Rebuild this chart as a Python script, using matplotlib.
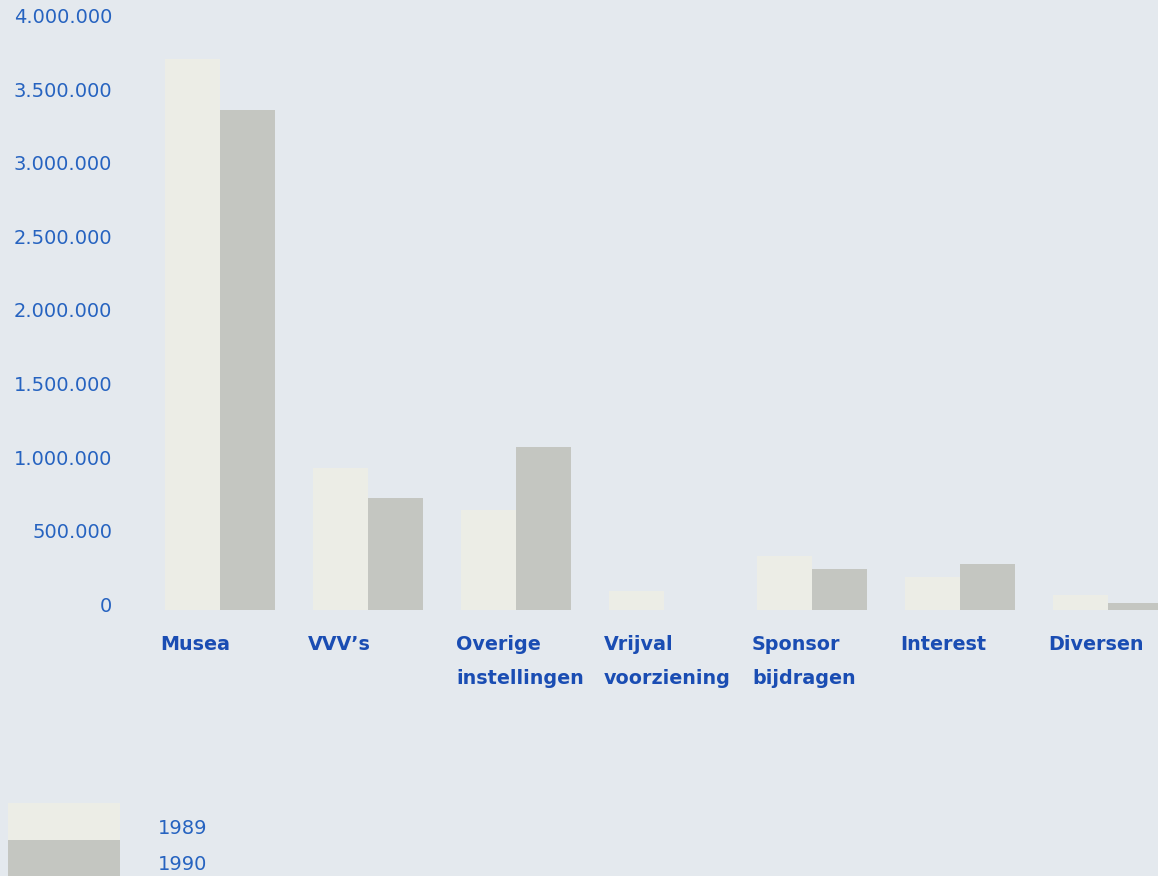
import matplotlib
matplotlib.use("Agg")
import matplotlib.pyplot as plt
from matplotlib.patches import Rectangle
import numpy as np

categories = ["Musea", "VVV\u2019s", "Overige\ninstellingen", "Vrijval\nvoorziening",
              "Sponsor\nbijdragen", "Interest", "Diversen"]
values_1989 = [3740000, 965000, 680000, 130000, 370000, 225000, 100000]
values_1990 = [3400000, 760000, 1110000, 0, 280000, 310000, 50000]
tick_values = [0, 500000, 1000000, 1500000, 2000000, 2500000, 3000000, 3500000, 4000000]
years = ["1989", "1990"]

BG = "#e4e9ee"
C89 = "#ecede6"
C90 = "#c4c6c1"
BLUE = "#2663c0"
DBLUE = "#1a4db3"

W, H = 1158, 876
fig = plt.figure(figsize=(W / 100, H / 100), dpi=100, facecolor=BG)
ax = fig.add_axes([0, 0, 1, 1])
ax.set_facecolor(BG)

# pixel layout: group i starts around x=165+148*i, baseline at y=610 from top
x0_px, step_px = 220, 148
base_px, per_m = 610, 147.2
ax.set_xlim(-x0_px / step_px, (W - x0_px) / step_px)
ax.set_ylim(-(H - base_px) / per_m * 1e6, base_px / per_m * 1e6)
ax.axis("off")

x = np.arange(len(categories))
bw = 55 / step_px
ax.bar(x - bw / 2, values_1989, width=bw, color=C89, linewidth=0)
ax.bar(x + bw / 2, values_1990, width=bw, color=C90, linewidth=0)

font = "DejaVu Sans"
for v in tick_values:
    label = "{:,}".format(v).replace(",", ".")
    ax.text((112 - x0_px) / step_px, v - 12000, label, ha="right", va="baseline",
            color=BLUE, fontsize=14, family=font)

line_base = [650, 684]
for i, cat in enumerate(categories):
    for j, line in enumerate(cat.split("\n")):
        ax.text(i - bw - 5 / step_px, (base_px - line_base[j]) / per_m * 1e6, line,
                ha="left", va="baseline", color=DBLUE, fontsize=13.8, family=font,
                fontweight="bold")

# legend
def px_rect(x1, y1, x2, y2, color):
    fig.patches.append(Rectangle((x1 / W, 1 - y2 / H), (x2 - x1) / W, (y2 - y1) / H,
                                 transform=fig.transFigure, color=color, linewidth=0))

px_rect(8, 803, 120, 840, C89)
px_rect(8, 840, 120, 880, C90)
fig.text(158 / W, 1 - 834 / H, years[0], ha="left", va="baseline", color=BLUE,
         fontsize=14, family=font)
fig.text(158 / W, 1 - 870 / H, years[1], ha="left", va="baseline", color=BLUE,
         fontsize=14, family=font)

fig.savefig("out.png", dpi=100, facecolor=BG)
